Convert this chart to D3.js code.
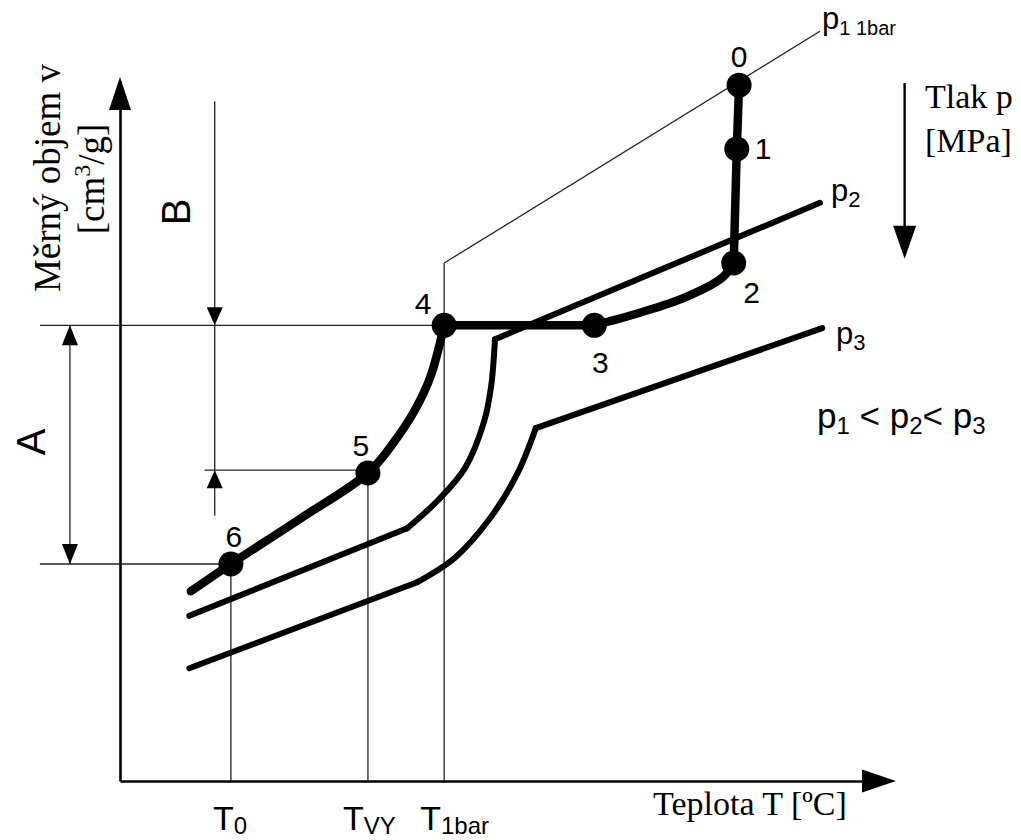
<!DOCTYPE html>
<html>
<head>
<meta charset="utf-8">
<script src="https://cdn.jsdelivr.net/npm/d3@7"></script>
<style>
  body { margin: 0; background: #fff; }
  svg { display: block; }
  .thin { fill: none; stroke: #222; stroke-width: 1.3; }
  .sans { font-family: "Liberation Sans", Arial, sans-serif; fill: #000; }
  .narrow { font-family: "Liberation Sans Narrow", "Liberation Sans", Arial, sans-serif; fill: #000; }
  .serif { font-family: "Liberation Serif", "Times New Roman", serif; fill: #000; }
</style>
</head>
<body>
<div id="chart"></div>
<script>
// process points 0..6 (T, v in diagram units)
var pointLabels = ["0", "1", "2", "3", "4", "5", "6"];
var pointT = [80.4, 80.1, 79.7, 61.6, 42.1, 32.2, 14.4];
var pointV = [99.4, 90.3, 74.0, 65.1, 65.1, 44.0, 31.0];

// process path, split where it has corners
var drop = [[80.4, 99.4], [80.1, 90.3], [79.7, 74.0]];
var pack = [[79.7, 74.0], [78.2, 71.9], [73.4, 69.1], [67.5, 66.9], [61.6, 65.1]];
var flat = [[61.6, 65.1], [42.1, 65.1]];
var cool = [[42.1, 65.1], [40.3, 57.7], [38.3, 53.0], [35.5, 48.3], [32.2, 44.0], [23.3, 37.4], [14.4, 31.0], [9.2, 27.1]];

// isobars
var p1Line = [[90.9, 107.1], [42.1, 74.0], [42.1, 0]];
var p2Melt = [[90.9, 82.6], [48.7, 63.1]];
var p2Bend = [[48.7, 63.1], [48.2, 56.4], [47.3, 51.4], [44.8, 44.7], [41.2, 40.0], [37.3, 36.1]];
var p2Solid = [[37.3, 36.1], [9.0, 23.6]];
var p3Melt = [[91.2, 64.7], [54.0, 50.4]];
var p3Bend = [[54.0, 50.4], [51.6, 43.9], [48.1, 37.6], [43.5, 31.9], [38.6, 28.4]];
var p3Solid = [[38.6, 28.4], [9.0, 16.1]];

// temperature marks on the T axis
var tempNames = ["T", "T", "T"];
var tempSubs = ["0", "VY", "1bar"];
var tempT = [14.4, 32.2, 42.1];
var tempTop = [31.0, 44.0, 74.0];

// helper lines / dimensions
var levelV = [65.1, 44.4, 31.0];
var levelFrom = [-10.4, 11.0, -10.4];
var levelTo = [42.1, 32.2, 14.4];
var dimB = {t: 12.3, top: 97.1, arrow: 65.1, bottom: 44.4, upFrom: 37.9};
var dimA = {t: -6.5, top: 65.1, bottom: 31.0};
var pressArrow = {t: 101.9, top: 99.7, bottom: 74.6};

var W = 1021, H = 840;
var x = d3.scaleLinear().domain([0, 100]).range([120, 890]);
var y = d3.scaleLinear().domain([0, 100]).range([781, 81]);

var svg = d3.select("#chart").append("svg")
  .attr("width", W).attr("height", H);
svg.append("rect").attr("width", W).attr("height", H).attr("fill", "#fff");

var line = d3.line().x(function(d) { return x(d[0]); }).y(function(d) { return y(d[1]); });
var smooth = d3.line().curve(d3.curveCatmullRom.alpha(0.5))
  .x(function(d) { return x(d[0]); }).y(function(d) { return y(d[1]); });

// triangle arrow head: tip at (px,py), pointing in dir (dx,dy)
function head(px, py, dx, dy, len, half) {
  var bx = px - dx * len, by = py - dy * len;
  var nx = -dy * half, ny = dx * half;
  svg.append("path")
    .attr("d", "M" + px + "," + py + "L" + (bx + nx) + "," + (by + ny) + "L" + (bx - nx) + "," + (by - ny) + "Z")
    .attr("fill", "#000");
}

// axes
svg.append("g").attr("transform", "translate(0," + y(0) + ")")
  .call(d3.axisBottom(x).tickValues([]).tickSizeOuter(0));
svg.append("g").attr("transform", "translate(" + x(0) + ",0)")
  .call(d3.axisLeft(y).tickValues([]).tickSizeOuter(0));
svg.selectAll(".domain").attr("stroke", "#000").attr("stroke-width", 2.6);
head(x(100) + 6, y(0), 1, 0, 34, 11.5);
head(x(0), y(100) - 4, 0, -1, 33, 11);

// thin helper lines
svg.append("path").attr("class", "thin").attr("d", line(p1Line));
tempT.forEach(function(t, i) {
  if (i < 2) svg.append("line").attr("class", "thin")
    .attr("x1", x(t)).attr("x2", x(t)).attr("y1", y(tempTop[i])).attr("y2", y(0));
});
levelV.forEach(function(v, i) {
  svg.append("line").attr("class", "thin")
    .attr("x1", x(levelFrom[i])).attr("x2", x(levelTo[i])).attr("y1", y(v)).attr("y2", y(v));
});

// dimension B
svg.append("line").attr("class", "thin")
  .attr("x1", x(dimB.t)).attr("x2", x(dimB.t)).attr("y1", y(dimB.top)).attr("y2", y(dimB.bottom));
head(x(dimB.t), y(dimB.arrow), 0, 1, 18, 8);
svg.append("line").attr("class", "thin")
  .attr("x1", x(dimB.t)).attr("x2", x(dimB.t)).attr("y1", y(dimB.upFrom)).attr("y2", y(dimB.bottom));
head(x(dimB.t), y(dimB.bottom), 0, -1, 18, 8);

// dimension A
svg.append("line").attr("class", "thin")
  .attr("x1", x(dimA.t)).attr("x2", x(dimA.t)).attr("y1", y(dimA.top)).attr("y2", y(dimA.bottom));
head(x(dimA.t), y(dimA.top), 0, -1, 20, 8);
head(x(dimA.t), y(dimA.bottom), 0, 1, 20, 8);

// pressure arrow
svg.append("line").attr("stroke", "#000").attr("stroke-width", 2.4)
  .attr("x1", x(pressArrow.t)).attr("x2", x(pressArrow.t))
  .attr("y1", y(pressArrow.top)).attr("y2", y(pressArrow.bottom) - 20);
head(x(pressArrow.t), y(pressArrow.bottom), 0, 1, 33, 11.5);

// isobars p2, p3
[[p2Melt, line], [p2Bend, smooth], [p2Solid, line], [p3Melt, line], [p3Bend, smooth], [p3Solid, line]]
  .forEach(function(s) {
    svg.append("path").attr("d", s[1](s[0])).attr("fill", "none")
      .attr("stroke", "#000").attr("stroke-width", 6)
      .attr("stroke-linecap", "round").attr("stroke-linejoin", "round");
  });

// process path
[[drop, line], [pack, smooth], [flat, line], [cool, smooth]].forEach(function(s) {
  svg.append("path").attr("d", s[1](s[0])).attr("fill", "none")
    .attr("stroke", "#000").attr("stroke-width", 8.5)
    .attr("stroke-linecap", "round").attr("stroke-linejoin", "round");
});

// process points
svg.selectAll("circle.pt").data(pointT).enter().append("circle")
  .attr("class", "pt")
  .attr("cx", function(d) { return x(d); })
  .attr("cy", function(d, i) { return y(pointV[i]); })
  .attr("r", 12.5).attr("fill", "#000");

var labelOff = [[0, -18], [18, 10], [18, 40], [6, 48], [-21, -11], [-7, -17], [3, -17]];
svg.selectAll("text.pt").data(pointLabels).enter().append("text")
  .attr("class", "sans")
  .attr("x", function(d, i) { return x(pointT[i]) + labelOff[i][0]; })
  .attr("y", function(d, i) { return y(pointV[i]) + labelOff[i][1]; })
  .attr("text-anchor", function(d, i) { return i == 1 ? "start" : "middle"; })
  .attr("font-size", 30)
  .text(function(d) { return d; });

// p labels with subscripts
function pLabel(px, py, sub, size, subSize) {
  var t = svg.append("text").attr("class", "sans").attr("x", px).attr("y", py).attr("font-size", size);
  t.append("tspan").text("p");
  t.append("tspan").attr("font-size", subSize).attr("dy", 6).text(sub);
  return t;
}
pLabel(822, 29, "1 1bar", 31, 20);
pLabel(831, 201, "2", 31, 22);
pLabel(836, 344, "3", 31, 22);

var rel = svg.append("text").attr("class", "sans").attr("x", 817).attr("y", 428).attr("font-size", 35);
rel.append("tspan").text("p");
rel.append("tspan").attr("font-size", 24).attr("dy", 6).text("1");
rel.append("tspan").attr("dy", -6).text(" < p");
rel.append("tspan").attr("font-size", 24).attr("dy", 6).text("2");
rel.append("tspan").attr("dy", -6).text("< p");
rel.append("tspan").attr("font-size", 24).attr("dy", 6).text("3");

// pressure caption
svg.append("text").attr("class", "serif").attr("x", 925).attr("y", 108).attr("font-size", 34).text("Tlak p");
svg.append("text").attr("class", "serif").attr("x", 925).attr("y", 152).attr("font-size", 34).text("[MPa]");

// axis titles
svg.append("text").attr("class", "serif").attr("x", 653).attr("y", 815).attr("font-size", 34)
  .text("Teplota T [\u00baC]");
svg.append("text").attr("class", "serif").attr("font-size", 37).attr("text-anchor", "middle")
  .attr("transform", "translate(60,178) rotate(-90)").text("M\u011brn\u00fd objem v");
var unit = svg.append("text").attr("class", "serif").attr("font-size", 37).attr("text-anchor", "middle")
  .attr("transform", "translate(104,179) rotate(-90)");
unit.append("tspan").text("[cm");
unit.append("tspan").attr("font-size", 24).attr("dy", -14).text("3");
unit.append("tspan").attr("dy", 14).text("/g]");

// A and B
svg.append("text").attr("class", "sans").attr("font-size", 40).attr("text-anchor", "middle")
  .attr("transform", "translate(190,212) rotate(-90)").text("B");
svg.append("text").attr("class", "sans").attr("font-size", 40).attr("text-anchor", "middle")
  .attr("transform", "translate(45,442) rotate(-90)").text("A");

// T axis marks
var tempShift = [-18, -25, -24];
tempT.forEach(function(t, i) {
  var tx = svg.append("text").attr("class", "narrow").attr("x", x(t) + tempShift[i]).attr("y", 830).attr("font-size", 34);
  tx.append("tspan").text(tempNames[i]);
  tx.append("tspan").attr("font-size", 24).attr("dy", 4).text(tempSubs[i]);
});
</script>
</body>
</html>
